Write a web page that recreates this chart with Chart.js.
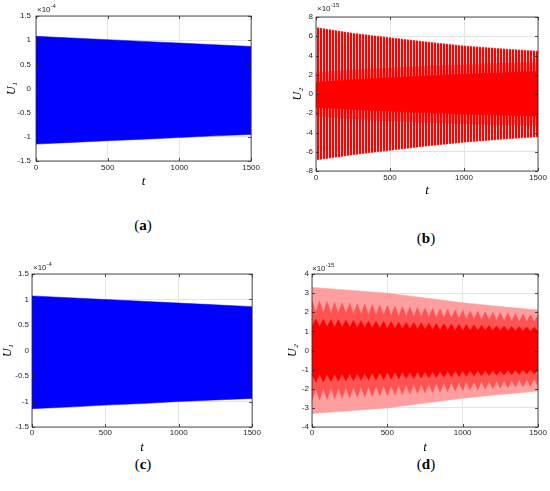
<!DOCTYPE html>
<html lang="en">
<head>
<meta charset="utf-8">
<title>U1 / U2</title>

<script src="https://cdn.jsdelivr.net/npm/chart.js"></script>

<style>
  body{margin:0;width:550px;height:491px;position:relative;overflow:hidden;background:#fff;font-family:"Liberation Sans",Arial,sans-serif}
  canvas{position:absolute}
  .exp{position:absolute;font-size:8px;color:#262626;line-height:10px}
  .exp sup{font-size:6px;vertical-align:4px;line-height:0}
  .cap{position:absolute;font:15px "Liberation Serif",serif;color:#000;transform:translate(-50%,-50%)}
</style>
</head>
<body>

<canvas id="ca" width="262" height="200" style="left:0;top:0"></canvas>
<canvas id="cb" width="275" height="205" style="left:275px;top:0"></canvas>
<canvas id="cc" width="262" height="200" style="left:0;top:255px"></canvas>
<canvas id="cd" width="275" height="200" style="left:275px;top:255px"></canvas>

<div class="exp" style="left:37px;top:5px">×10<sup>-4</sup></div>
<div class="exp" style="left:317px;top:4px">×10<sup>-15</sup></div>
<div class="exp" style="left:33px;top:263px">×10<sup>-4</sup></div>
<div class="exp" style="left:312px;top:264px">×10<sup>-15</sup></div>

<div class="cap" style="left:143px;top:225px">(<b>a</b>)</div>
<div class="cap" style="left:426px;top:238px">(<b>b</b>)</div>
<div class="cap" style="left:143px;top:464px">(<b>c</b>)</div>
<div class="cap" style="left:426px;top:464px">(<b>d</b>)</div>

<script>
// envelope sample times
const tEnv = [0, 250, 500, 750, 1000, 1250, 1500];

// (a) U1, x1e-4
const aUpper = [1.08, 1.045, 1.01, 0.975, 0.94, 0.905, 0.87];
const aLower = [-1.15, -1.115, -1.08, -1.05, -1.015, -0.98, -0.95];

// (b) U2, x1e-15
const bOuterUp = [6.9, 6.3, 5.85, 5.4, 5.0, 4.7, 4.45];
const bOuterLo = [-6.85, -6.3, -5.85, -5.4, -5.0, -4.7, -4.45];
const bMidUp = [2.2, 2.5, 2.7, 2.9, 3.05, 3.2, 3.3];
const bMidLo = [-2.3, -2.6, -2.8, -2.95, -3.1, -3.2, -3.3];
const bCoreUp = [1.2, 1.5, 1.7, 1.9, 2.05, 2.2, 2.35];
const bCoreLo = [-1.4, -1.6, -1.8, -1.95, -2.1, -2.2, -2.3];

// (c) U1, x1e-4
const cUpper = [1.07, 1.035, 1.0, 0.965, 0.93, 0.895, 0.86];
const cLower = [-1.14, -1.11, -1.07, -1.04, -1.0, -0.97, -0.94];

// (d) U2, x1e-15
const dOuterUp = [3.3, 3.15, 3.0, 2.75, 2.5, 2.3, 2.12];
const dOuterLo = [-3.3, -3.15, -3.0, -2.75, -2.5, -2.3, -2.12];

const tBeat = [0,25,50,75,100,125,150,175,200,225,250,275,300,325,350,375,400,425,450,475,
  500,525,550,575,600,625,650,675,700,725,750,775,800,825,850,875,900,925,950,975,
  1000,1025,1050,1075,1100,1125,1150,1175,1200,1225,1250,1275,1300,1325,1350,1375,1400,1425,1450,1475,1500];
const dMidUp = [2.60,2.00,2.57,1.98,2.55,1.96,2.52,1.95,2.50,1.93,2.47,1.91,2.45,1.89,2.42,1.88,2.40,1.86,2.37,1.84,
  2.35,1.82,2.32,1.80,2.30,1.79,2.27,1.77,2.25,1.75,2.22,1.73,2.20,1.72,2.17,1.70,2.15,1.68,2.12,1.66,
  2.10,1.64,2.07,1.63,2.05,1.61,2.02,1.59,2.00,1.57,1.97,1.55,1.95,1.54,1.92,1.52,1.90,1.50,1.87,1.48,1.85];
const dMidLo = [-2.60,-2.00,-2.57,-1.98,-2.55,-1.96,-2.52,-1.95,-2.50,-1.93,-2.47,-1.91,-2.45,-1.89,-2.42,-1.88,-2.40,-1.86,-2.37,-1.84,
  -2.35,-1.82,-2.32,-1.80,-2.30,-1.79,-2.27,-1.77,-2.25,-1.75,-2.22,-1.73,-2.20,-1.72,-2.17,-1.70,-2.15,-1.68,-2.12,-1.66,
  -2.10,-1.64,-2.07,-1.63,-2.05,-1.61,-2.02,-1.59,-2.00,-1.57,-1.97,-1.55,-1.95,-1.54,-1.92,-1.52,-1.90,-1.50,-1.87,-1.48,-1.85];
const dCoreUp = [1.25,1.65,1.24,1.64,1.23,1.62,1.22,1.61,1.21,1.59,1.20,1.58,1.19,1.56,1.18,1.55,1.17,1.53,1.16,1.52,
  1.15,1.50,1.14,1.49,1.13,1.47,1.12,1.46,1.11,1.44,1.10,1.43,1.09,1.41,1.08,1.40,1.07,1.38,1.06,1.37,
  1.05,1.35,1.05,1.34,1.04,1.32,1.04,1.31,1.03,1.29,1.03,1.28,1.02,1.26,1.02,1.25,1.01,1.23,1.01,1.22,1.00];
const dCoreLo = [-1.25,-1.65,-1.24,-1.64,-1.23,-1.62,-1.22,-1.61,-1.21,-1.59,-1.20,-1.58,-1.19,-1.56,-1.18,-1.55,-1.17,-1.53,-1.16,-1.52,
  -1.15,-1.50,-1.14,-1.49,-1.13,-1.47,-1.12,-1.46,-1.11,-1.44,-1.10,-1.43,-1.09,-1.41,-1.08,-1.40,-1.07,-1.38,-1.06,-1.37,
  -1.05,-1.35,-1.05,-1.34,-1.04,-1.32,-1.04,-1.31,-1.03,-1.29,-1.03,-1.28,-1.02,-1.26,-1.02,-1.25,-1.01,-1.23,-1.01,-1.22,-1.00];

const xTicks = [0, 500, 1000, 1500];

const pts = (ts, vs) => ts.map((t, i) => ({x: t, y: vs[i]}));

// vertical stripes for the sparse oscillation in (b)
function stripes(gap) {
  const c = document.createElement('canvas');
  c.width = 3; c.height = 1;
  const g = c.getContext('2d');
  g.fillStyle = '#ff0000'; g.fillRect(0, 0, 2, 1);
  g.fillStyle = gap; g.fillRect(2, 0, 1, 1);
  return g.createPattern(c, 'repeat');
}

function band(up, lo, ts, color) {
  return [
    {data: pts(ts, up), fill: '+1', backgroundColor: color, borderColor: color, borderWidth: 0.5},
    {data: pts(ts, lo), fill: false, borderColor: color, borderWidth: 0.5}
  ];
}

const box = {
  id: 'box',
  afterDraw(chart) {
    const {ctx, chartArea: a, scales: {x, y}} = chart;
    ctx.save();
    ctx.strokeStyle = '#262626';
    ctx.lineWidth = 0.8;
    ctx.beginPath();
    x.ticks.forEach(t => {
      const p = Math.round(x.getPixelForValue(t.value)) + 0.5;
      ctx.moveTo(p, a.bottom); ctx.lineTo(p, a.bottom - 3);
      ctx.moveTo(p, a.top); ctx.lineTo(p, a.top + 3);
    });
    y.ticks.forEach(t => {
      const p = Math.round(y.getPixelForValue(t.value)) + 0.5;
      ctx.moveTo(a.left, p); ctx.lineTo(a.left + 3, p);
      ctx.moveTo(a.right, p); ctx.lineTo(a.right - 3, p);
    });
    ctx.stroke();
    ctx.strokeRect(a.left, a.top, a.right - a.left, a.bottom - a.top);
    ctx.restore();
  }
};

const tickFont = {family: '"Liberation Sans", Arial, sans-serif', size: 8};
const serifIt = s => ({family: '"Liberation Serif", "DejaVu Serif", serif', style: 'italic', size: s});

function makeChart(id, datasets, o) {
  new Chart(document.getElementById(id), {
    type: 'line',
    data: {datasets},
    plugins: [box],
    options: {
      responsive: false,
      animation: false,
      layout: {padding: {left: 0, top: o.top, right: o.right, bottom: 0}},
      elements: {point: {radius: 0}, line: {tension: 0}},
      plugins: {legend: {display: false}, tooltip: {enabled: false}},
      scales: {
        x: {
          type: 'linear', min: 0, max: 1500,
          afterBuildTicks: s => { s.ticks = xTicks.map(v => ({value: v})); },
          afterFit: s => { s.height = o.xh; },
          ticks: {font: tickFont, color: '#262626', padding: o.xpad, maxRotation: 0, callback: v => String(v)},
          grid: {color: '#e4e4e4', drawTicks: false},
          border: {display: false},
          title: {display: true, text: 't', font: serifIt(13), color: '#000', padding: {top: 0, bottom: o.tpad}}
        },
        y: {
          min: o.ymin, max: o.ymax,
          afterFit: s => { s.width = o.yw; },
          ticks: {font: tickFont, color: '#262626', padding: o.ypad, stepSize: o.step, callback: v => String(v)},
          grid: {color: '#e4e4e4', drawTicks: false},
          border: {display: false},
          title: {display: true, text: o.ylab, font: serifIt(12), color: '#000', padding: {top: o.upad, bottom: 0}}
        }
      }
    }
  });
}

makeChart('ca', band(aUpper, aLower, tEnv, '#0000ff'),
  {top: 16, right: 9, xh: 39, yw: 36, xpad: 2, tpad: 11, ypad: 5, upad: 4.8, ymin: -1.5, ymax: 1.5, step: 0.5, ylab: 'U₁'});

makeChart('cb', [...band(bCoreUp, bCoreLo, tEnv, '#ff0000'), ...band(bMidUp, bMidLo, tEnv, stripes('#ff7070')),
  ...band(bOuterUp, bOuterLo, tEnv, stripes('#ffcccc'))],
  {top: 17, right: 12, xh: 34, yw: 41, xpad: 2, tpad: 7, ypad: 3, upad: 15.8, ymin: -8, ymax: 8, step: 2, ylab: 'U₂'});

makeChart('cc', band(cUpper, cLower, tEnv, '#0000ff'),
  {top: 19, right: 9, xh: 28, yw: 32, xpad: 1, tpad: 0, ypad: 3, upad: 0.8, ymin: -1.5, ymax: 1.5, step: 0.5, ylab: 'U₁'});

makeChart('cd', [...band(dCoreUp, dCoreLo, tBeat, '#ff0000'), ...band(dMidUp, dMidLo, tBeat, '#ff5252'),
  ...band(dOuterUp, dOuterLo, tEnv, '#ff9e9e')],
  {top: 19, right: 12, xh: 28, yw: 37, xpad: 1, tpad: 0, ypad: 3, upad: 10.8, ymin: -4, ymax: 4, step: 1, ylab: 'U₂'});
</script>

</body>
</html>
